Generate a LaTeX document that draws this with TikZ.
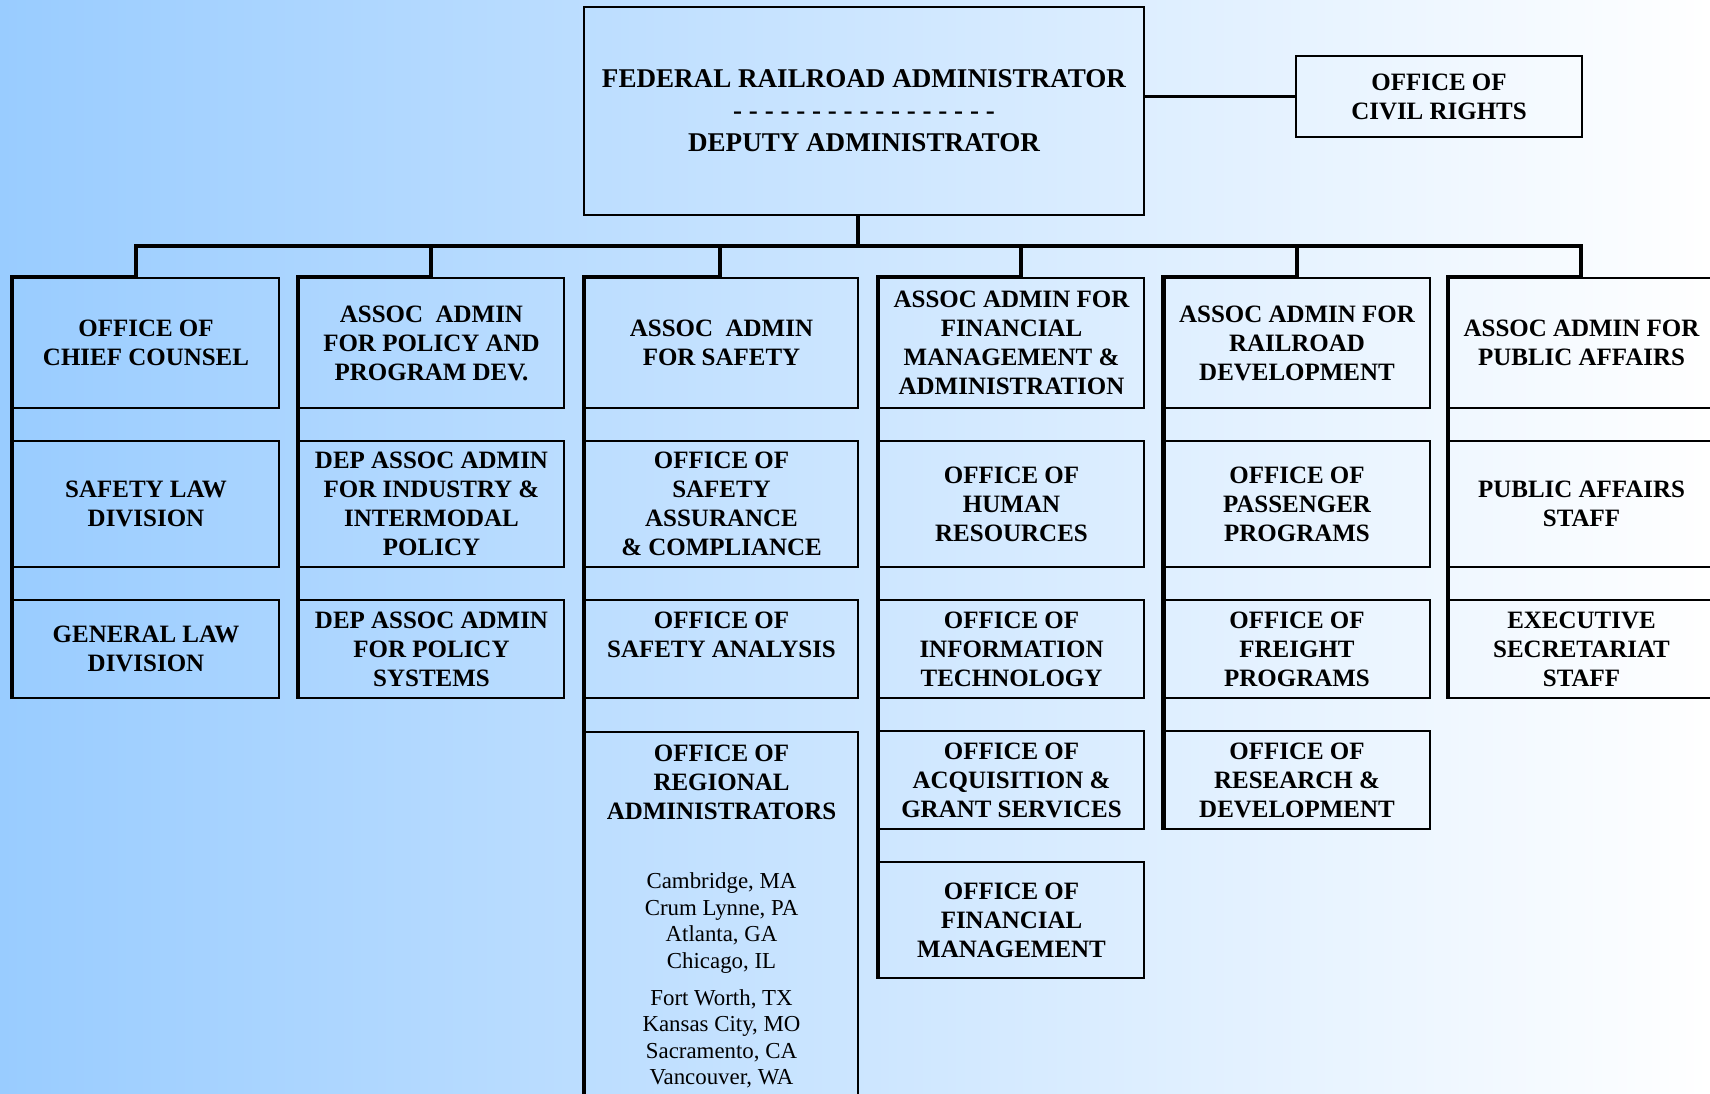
\documentclass[tikz,border=0pt]{standalone}
\usepackage{fontspec}
\setmainfont{Liberation Serif}
\definecolor{skyleft}{RGB}{153,204,255}
\tikzset{
  unit/.style={draw, line width=0.6pt, inner sep=0pt, minimum width=2.65cm, align=center,
    font=\bfseries\fontsize{7.1}{8.25}\selectfont,
    execute at begin node={\rule{0pt}{7pt}}},
  wide/.style={minimum width=2.73cm},
  rowa/.style={minimum height=1.30cm},
  rowb/.style={minimum height=1.26cm},
  rowc/.style={minimum height=0.98cm},
  rowd/.style={minimum height=0.98cm},
  rowe/.style={minimum height=1.16cm},
  link/.style={line width=1.2pt},
}
\begin{document}
\begin{tikzpicture}[x=0.01cm,y=-0.01cm]
\useasboundingbox (0,0) rectangle (1710,1093);
\shade[left color=skyleft, right color=white] (0,0) rectangle (1710,1093);

% administrator
\node[unit, minimum width=5.60cm, minimum height=2.08cm,
  font=\bfseries\fontsize{7.7}{9.1}\selectfont] (fra) at (864,111)
  {FEDERAL RAILROAD ADMINISTRATOR\\- - - - - - - - - - - - - - - - -\\DEPUTY ADMINISTRATOR};
\node[unit, minimum width=2.86cm, minimum height=0.81cm] (ocr) at (1439,96.5) {OFFICE OF\\CIVIL RIGHTS};
\draw[line width=0.6pt] (fra.east |- ocr.west) -- (ocr.west);

\coordinate (hub) at (858,246);
\coordinate (d1) at (136,246);
\coordinate (d2) at (431,246);
\coordinate (d3) at (720,246);
\coordinate (d4) at (1021,246);
\coordinate (d5) at (1297,246);
\coordinate (d6) at (1581,246);

% chief counsel
\node[unit, rowa] (counsel) at (146,343) {OFFICE OF\\CHIEF COUNSEL};
\node[unit, rowb] (safelaw) at (146,504) {SAFETY LAW\\DIVISION};
\node[unit, rowc] (genlaw) at (146,649) {GENERAL LAW\\DIVISION};

% policy
\node[unit, rowa] (policy) at (431.5,343) {ASSOC\ \ ADMIN\\FOR POLICY AND\\PROGRAM DEV.};
\node[unit, rowb] (indpol) at (431.5,504) {DEP ASSOC ADMIN\\FOR INDUSTRY \&\\INTERMODAL\\POLICY};
\node[unit, rowc] (polsys) at (431.5,649) {DEP ASSOC ADMIN\\FOR POLICY\\SYSTEMS};

% safety
\node[unit, wide, rowa] (safety) at (721.5,343) {ASSOC\ \ ADMIN\\FOR SAFETY};
\node[unit, wide, rowb] (assure) at (721.5,504) {OFFICE OF\\SAFETY\\ASSURANCE\\\& COMPLIANCE};
\node[unit, wide, rowc] (analysis) at (721.5,649) {OFFICE OF\\SAFETY ANALYSIS\\\mbox{}};
\node[draw, line width=0.6pt, inner xsep=0pt, inner ysep=0.13cm, anchor=north] (region) at (721.5,731)
  {\begin{minipage}[t][3.8cm][t]{2.73cm}\centering
   {\bfseries\fontsize{7.1}{8.25}\selectfont OFFICE OF\\REGIONAL\\ADMINISTRATORS\par}
   \vspace{12pt}
   {\fontsize{6.5}{7.57}\selectfont Cambridge, MA\\Crum Lynne, PA\\Atlanta, GA\\Chicago, IL\par}
   \vspace{2.86pt}
   {\fontsize{6.5}{7.57}\selectfont Fort Worth, TX\\Kansas City, MO\\Sacramento, CA\\Vancouver, WA\par}
   \end{minipage}};

% financial management and administration
\node[unit, rowa] (finadm) at (1011.5,343) {ASSOC ADMIN FOR\\FINANCIAL\\MANAGEMENT \&\\ADMINISTRATION};
\node[unit, rowb] (human) at (1011.5,504) {OFFICE OF\\HUMAN\\RESOURCES};
\node[unit, rowc] (infotech) at (1011.5,649) {OFFICE OF\\INFORMATION\\TECHNOLOGY};
\node[unit, rowd] (acquis) at (1011.5,780) {OFFICE OF\\ACQUISITION \&\\GRANT SERVICES};
\node[unit, rowe] (finman) at (1011.5,920) {OFFICE OF\\FINANCIAL\\MANAGEMENT};

% railroad development
\node[unit, rowa] (rrdev) at (1297,343) {ASSOC ADMIN FOR\\RAILROAD\\DEVELOPMENT};
\node[unit, rowb] (passeng) at (1297,504) {OFFICE OF\\PASSENGER\\PROGRAMS};
\node[unit, rowc] (freight) at (1297,649) {OFFICE OF\\FREIGHT\\PROGRAMS};
\node[unit, rowd] (research) at (1297,780) {OFFICE OF\\RESEARCH \&\\DEVELOPMENT};

% public affairs
\node[unit, rowa] (pubaff) at (1581.5,343) {ASSOC ADMIN FOR\\PUBLIC AFFAIRS};
\node[unit, rowb] (pastaff) at (1581.5,504) {PUBLIC AFFAIRS\\STAFF};
\node[unit, rowc] (execsec) at (1581.5,649) {EXECUTIVE\\SECRETARIAT\\STAFF};

% connectors
\draw[link] (hub |- fra.south) -- (hub);
\draw[link] (genlaw.south west) -- (counsel.north west) -| (d1) -- (d6) |- (pubaff.north west) -- (execsec.south west);
\draw[link] (d2) |- (policy.north west) -- (polsys.south west);
\draw[link] (d3) |- (safety.north west) -- (region.south west);
\draw[link] (d4) |- (finadm.north west) -- (finman.south west);
\draw[link] (d5) |- (rrdev.north west) -- (research.south west);
\end{tikzpicture}
\end{document}
